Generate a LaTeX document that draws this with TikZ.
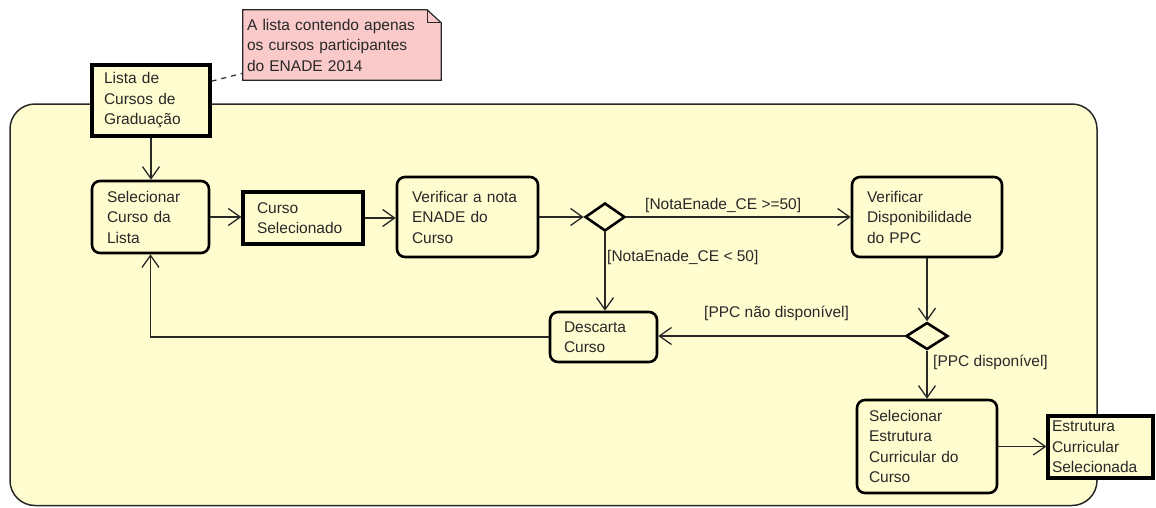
\documentclass[tikz,border=0pt]{standalone}
\usepackage{fontspec}
\setmainfont{Liberation Sans}
\usetikzlibrary{arrows.meta,shapes.geometric,calc}

\definecolor{panel}{RGB}{255,253,208}
\definecolor{notepink}{RGB}{250,202,202}
\definecolor{ink}{RGB}{40,40,40}

\tikzset{
  base/.style={font=\fontsize{15.5}{20.5}\selectfont, text=ink, align=left},
  action/.style={base, draw=black, line width=2.6pt, fill=panel,
                 rounded corners=8pt, inner ysep=0pt},
  object/.style={base, draw=black, line width=3.2pt, fill=panel, inner ysep=0pt},
  decision/.style={diamond, draw=black, line width=2.6pt, fill=panel,
                   inner sep=0pt},
  flow/.style={draw=ink, line width=1.3pt,
               -{Straight Barb[length=12pt,width=17pt]}},
  guard/.style={base, anchor=west, inner sep=0pt},
  notepath/.style={ink, line width=1.2pt},
}

\begin{document}
\begin{tikzpicture}[x=1pt,y=-1pt]
\useasboundingbox (0,0) rectangle (1156,507);

% activity region
\draw[fill=panel, draw=ink, line width=1.5pt, rounded corners=25pt]
  (10,104) rectangle (1097,505.5);

% comment note with folded corner
\node[base, inner sep=0pt, minimum width=198pt, minimum height=70pt,
      text width=190pt] (note) at (342,45) {};
\fill[notepink] (note.north west) -- ($(note.north east)+(-14,0)$)
  -- ($(note.north east)+(0,13)$) -- (note.south east) -- (note.south west) -- cycle;
\draw[notepath] (note.north west) -- ($(note.north east)+(-14,0)$)
  -- ($(note.north east)+(0,13)$) -- (note.south east) -- (note.south west) -- cycle;
\draw[notepath] ($(note.north east)+(-14,0)$) |- ($(note.north east)+(0,13)$);
\node[base, inner sep=0pt, text width=190pt] (notetext) at (note.center)
  {A lista contendo apenas\\os cursos participantes\\do ENADE 2014};

% object and action nodes
\node[object, text width=94pt, inner xsep=12pt, minimum height=71pt] (lista) at (151,100.5)
  {Lista de\\Cursos de\\Graduação};
\node[action, text width=87pt, inner xsep=15pt, minimum height=72pt] (sel) at (150.5,217)
  {Selecionar\\Curso da\\Lista};
\node[object, text width=92pt, inner xsep=14pt, minimum height=52pt] (cursel) at (303,218)
  {Curso\\Selecionado};
\node[action, text width=111pt, inner xsep=15pt, minimum height=80pt] (nota) at (467.5,217)
  {Verificar a nota\\ENADE do\\Curso};
\node[decision, minimum width=40pt, minimum height=28pt] (d1) at (605,217) {};
\node[action, text width=120pt, inner xsep=15pt, minimum height=80pt] (disp) at (927,217)
  {Verificar\\Disponibilidade\\do PPC};
\node[action, text width=79pt, inner xsep=14pt, minimum height=50pt] (desc) at (603.5,337)
  {Descarta\\Curso};
\node[decision, minimum width=42pt, minimum height=27pt] (d2) at (927,336) {};
\node[action, text width=116pt, inner xsep=12pt, minimum height=93pt] (selest) at (927,446.5)
  {Selecionar\\Estrutura\\Curricular do\\Curso};
\node[object, text width=97pt, inner xsep=4pt, minimum height=62pt] (estsel) at (1100.5,447)
  {Estrutura\\Curricular\\Selecionada};

% note anchor line
\draw[notepath, dash pattern=on 5pt off 5pt]
  ($(lista.north east)!0.24!(lista.south east)$) -- ($(note.north west)!0.9!(note.south west)$);

% control flow
\draw[flow] (lista.south) -- (lista.south |- sel.north);
\draw[flow] (sel.east) -- (sel.east -| cursel.west);
\draw[flow] (cursel.east) -- (cursel.east -| nota.west);
\draw[flow] (nota.east) -- (d1.west);
\draw[flow] (d1.east) -- (d1.east -| disp.west);
\draw[flow] (d1.south) -- (d1.south |- desc.north);
\draw[flow] (disp.south) -- (d2.north);
\draw[flow] (d2.west) -- (d2.west -| desc.east);
\draw[flow] (desc.west) -| (sel.south);
\draw[flow] (d2.south) -- (selest.north);
\draw[flow] (selest.east) -- (selest.east -| estsel.west);

% guards
\node[guard] (g1) at (645,205) {[NotaEnade\_CE >=50]};
\node[guard] (g2) at (607,257) {[NotaEnade\_CE < 50]};
\node[guard] (g3) at (704,313) {[PPC não disponível]};
\node[guard] (g4) at (933,362) {[PPC disponível]};
\end{tikzpicture}
\end{document}
